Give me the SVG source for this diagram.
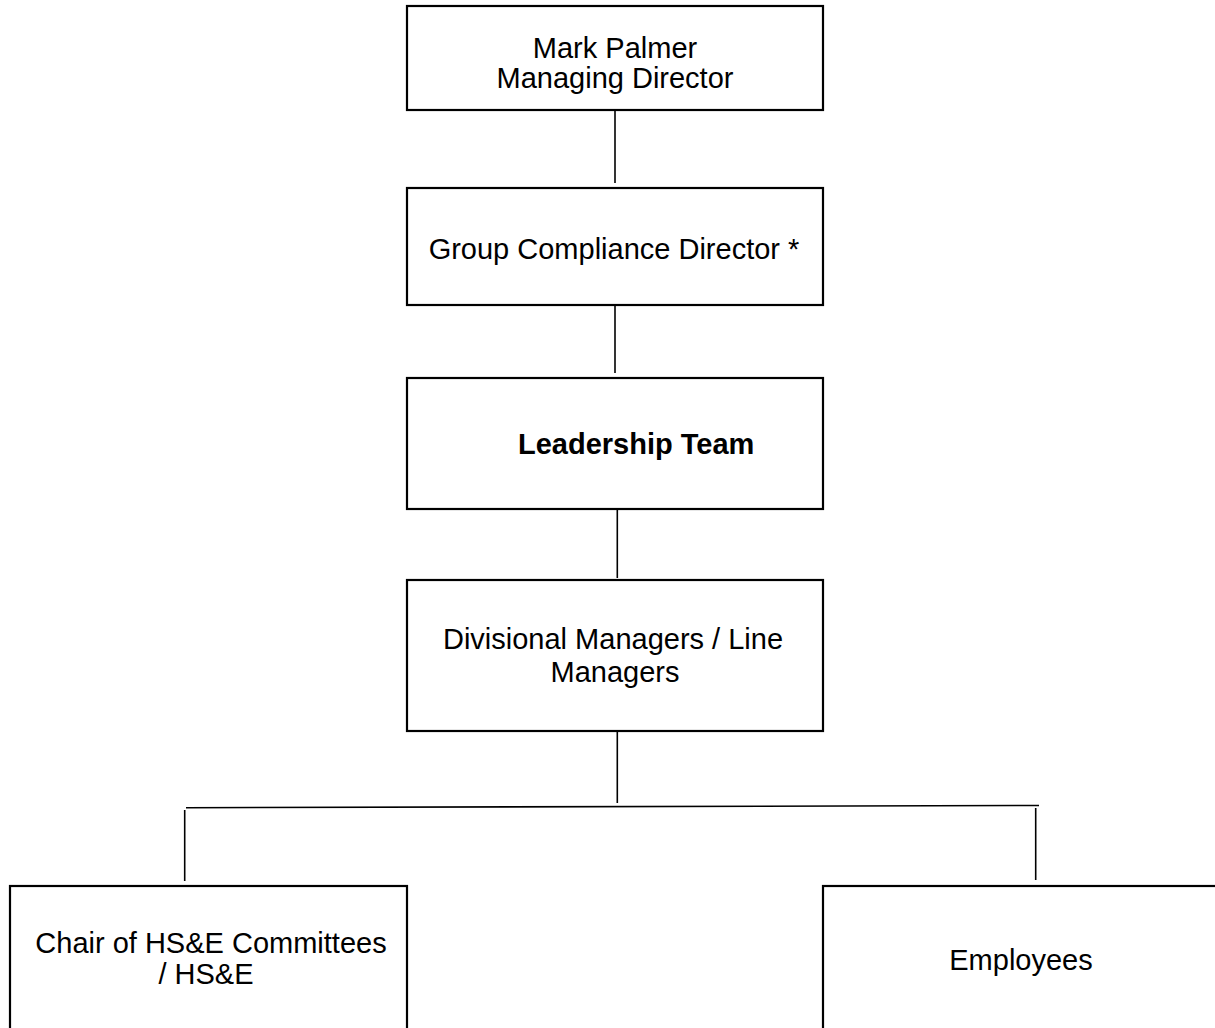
<svg xmlns="http://www.w3.org/2000/svg" width="1215" height="1028" viewBox="0 0 1215 1028">
<style>
.box{fill:#fff;stroke:#000;stroke-width:2.2}
.t{font-family:"Liberation Sans",Arial,sans-serif;font-size:29px;fill:#000;text-anchor:middle}
.b{font-weight:bold;text-anchor:start}
.c{stroke:#000;stroke-width:1.6;fill:none}
</style>
<rect width="1215" height="1028" fill="#fff"/>
<g id="connectors">
<line class="c" x1="615" y1="110" x2="615" y2="183"/>
<line class="c" x1="615" y1="305" x2="615" y2="373"/>
<line class="c" x1="617.3" y1="509" x2="617.3" y2="578"/>
<line class="c" x1="617.3" y1="731" x2="617.3" y2="803"/>
<line class="c" x1="186" y1="807.7" x2="1039" y2="805.5"/>
<line class="c" x1="184.7" y1="810" x2="184.7" y2="881"/>
<line class="c" x1="1035.7" y1="808" x2="1035.7" y2="880"/>
</g>
<g id="md">
<rect class="box" x="407" y="6" width="416" height="104"/>
<text class="t" x="615" y="58">Mark Palmer</text>
<text class="t" x="615" y="88">Managing Director</text>
</g>
<g id="gcd">
<rect class="box" x="407" y="188" width="416" height="117"/>
<text class="t" x="614" y="259">Group Compliance Director *</text>
</g>
<g id="lt">
<rect class="box" x="407" y="378" width="416" height="131"/>
<text class="t b" x="518" y="454">Leadership Team</text>
</g>
<g id="dm">
<rect class="box" x="407" y="580" width="416" height="151"/>
<text class="t" x="613" y="649">Divisional Managers / Line</text>
<text class="t" x="615" y="682">Managers</text>
</g>
<g id="chair">
<rect class="box" x="10" y="886" width="397" height="160"/>
<text class="t" x="211" y="953">Chair of HS&amp;E Committees</text>
<text class="t" x="206" y="984">/ HS&amp;E</text>
</g>
<g id="emp">
<rect class="box" x="823" y="886" width="410" height="160"/>
<text class="t" x="1021" y="970">Employees</text>
</g>
</svg>
